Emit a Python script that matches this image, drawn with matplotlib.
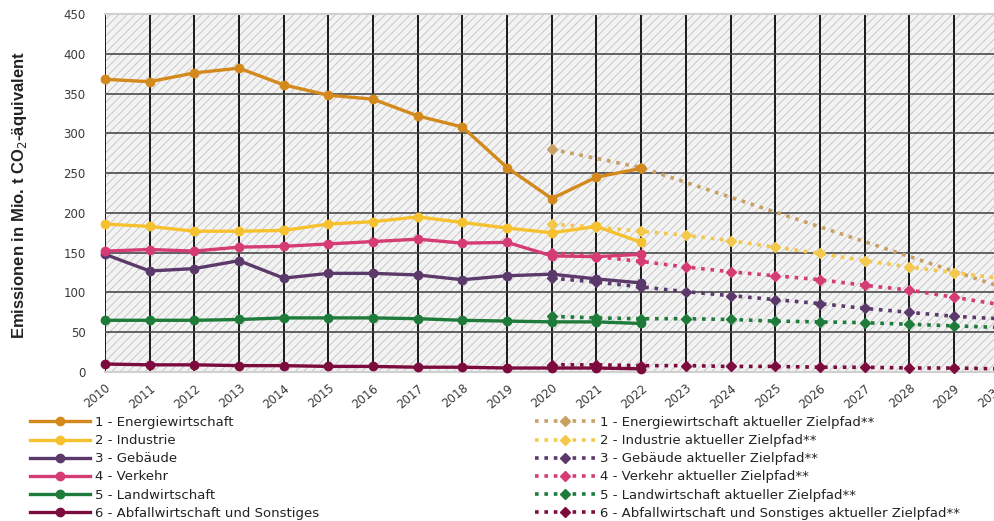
import matplotlib
matplotlib.use("Agg")
import matplotlib.pyplot as plt
from matplotlib.patches import Rectangle

# Ist-Emissionen 2010-2022 (Mio. t CO2-Äquivalent)
jahre = list(range(2010, 2023))
energie = [368, 365, 376, 382, 361, 348, 343, 322, 308, 257, 218, 245, 256]
industrie = [186, 183, 177, 177, 178, 186, 189, 195, 188, 181, 175, 183, 163]
gebaeude = [148, 127, 130, 140, 118, 124, 124, 122, 116, 121, 123, 117, 112]
verkehr = [152, 154, 152, 157, 158, 161, 164, 167, 162, 163, 146, 145, 148]
landwirtschaft = [65, 65, 65, 66, 68, 68, 68, 67, 65, 64, 63, 63, 61]
abfall = [10, 9, 9, 8, 8, 7, 7, 6, 6, 5, 5, 5, 4]

# aktueller Zielpfad 2020-2030
ziel_jahre = list(range(2020, 2031))
energie_ziel_jahre = [2020, 2022, 2030]
energie_ziel = [280, 257, 108]
industrie_ziel = [186, 182, 177, 172, 165, 157, 149, 140, 132, 125, 118]
gebaeude_ziel = [118, 113, 107, 101, 96, 91, 86, 80, 75, 70, 67]
verkehr_ziel = [150, 145, 139, 132, 126, 121, 116, 109, 103, 94, 85]
landwirtschaft_ziel = [70, 68, 67, 67, 66, 64, 63, 62, 60, 58, 56]
abfall_ziel = [9, 9, 8, 8, 7, 7, 6, 6, 5, 5, 4]

labels = ["1 - Energiewirtschaft", "2 - Industrie", "3 - Gebäude",
          "4 - Verkehr", "5 - Landwirtschaft", "6 - Abfallwirtschaft und Sonstiges"]
farben = ["#D4891C", "#F6C12E", "#5B3A6B", "#D63C74", "#1E7B3A", "#7D0C3E"]
ziel_farben = ["#C9A064", "#F4C84A", "#5B3A6B", "#D63C74", "#1E7B3A", "#7D0C3E"]

plt.rcParams['font.family'] = ['DejaVu Sans']
plt.rcParams['hatch.linewidth'] = 0.6

fig = plt.figure(figsize=(9.94, 5.21), dpi=100)
ax = fig.add_axes([0.1056, 0.286, 0.9215, 0.687])
ax.set_facecolor('#F3F3F3')
ax.add_patch(Rectangle((0, 0), 1, 1, transform=ax.transAxes, facecolor='none',
                       edgecolor='#C2C2C2', hatch='////', linewidth=0, zorder=0))

ist_daten = [energie, industrie, gebaeude, verkehr, landwirtschaft, abfall]
ziel_daten = [energie_ziel, industrie_ziel, gebaeude_ziel, verkehr_ziel,
              landwirtschaft_ziel, abfall_ziel]

ist_handles = []
ziel_handles = []
for i in range(6):
    zx = energie_ziel_jahre if i == 0 else ziel_jahre
    h2, = ax.plot(zx, ziel_daten[i], linestyle=(0, (1, 1.6)), linewidth=2.6,
                  color=ziel_farben[i], marker='D', markersize=5, zorder=3,
                  clip_on=False, label=labels[i] + " aktueller Zielpfad**")
    ziel_handles.append(h2)
for i in range(6):
    h1, = ax.plot(jahre, ist_daten[i], color=farben[i], linewidth=2.4,
                  marker='o', markersize=6, zorder=4, clip_on=False,
                  label=labels[i])
    ist_handles.append(h1)

ax.set_xlim(2010, 2030.5)
ax.set_ylim(0, 450)
ax.set_xticks(range(2010, 2031))
ax.set_yticks(range(0, 451, 50))
ax.set_axisbelow(True)
ax.xaxis.grid(True, color='#1A1A1A', linewidth=1.4)
ax.yaxis.grid(True, color='#4A4A4A', linewidth=1.2)
for s in ['left', 'right']:
    ax.spines[s].set_visible(False)
for s in ['top', 'bottom']:
    ax.spines[s].set_color('#D0D0D0')
    ax.spines[s].set_linewidth(1.5)
ax.tick_params(length=0, labelsize=8.5, labelcolor='#3A3A3A')
ax.tick_params(axis='y', pad=14)
ax.tick_params(axis='x', pad=7)
plt.setp(ax.get_xticklabels(), rotation=40, ha='right', rotation_mode='anchor')

fig.text(0.02, 0.626, "Emissionen in Mio. t CO$_2$-äquivalent", rotation=90,
         ha='center', va='center', fontsize=12, fontweight='bold',
         color='#222222', family=['Liberation Sans Narrow', 'Liberation Sans'])

leg_kw = dict(frameon=False, fontsize=9.5, handlelength=4.55, handletextpad=0.38,
              labelspacing=0.39, borderpad=0, borderaxespad=0, numpoints=1,
              labelcolor='#222222')
fig.legend(handles=ist_handles, loc='upper left',
           bbox_to_anchor=(30 / 994, 1 - 416 / 521), **leg_kw)
fig.legend(handles=ziel_handles, loc='upper left',
           bbox_to_anchor=(535 / 994, 1 - 416 / 521), **leg_kw)

fig.savefig('out.png', dpi=100)
